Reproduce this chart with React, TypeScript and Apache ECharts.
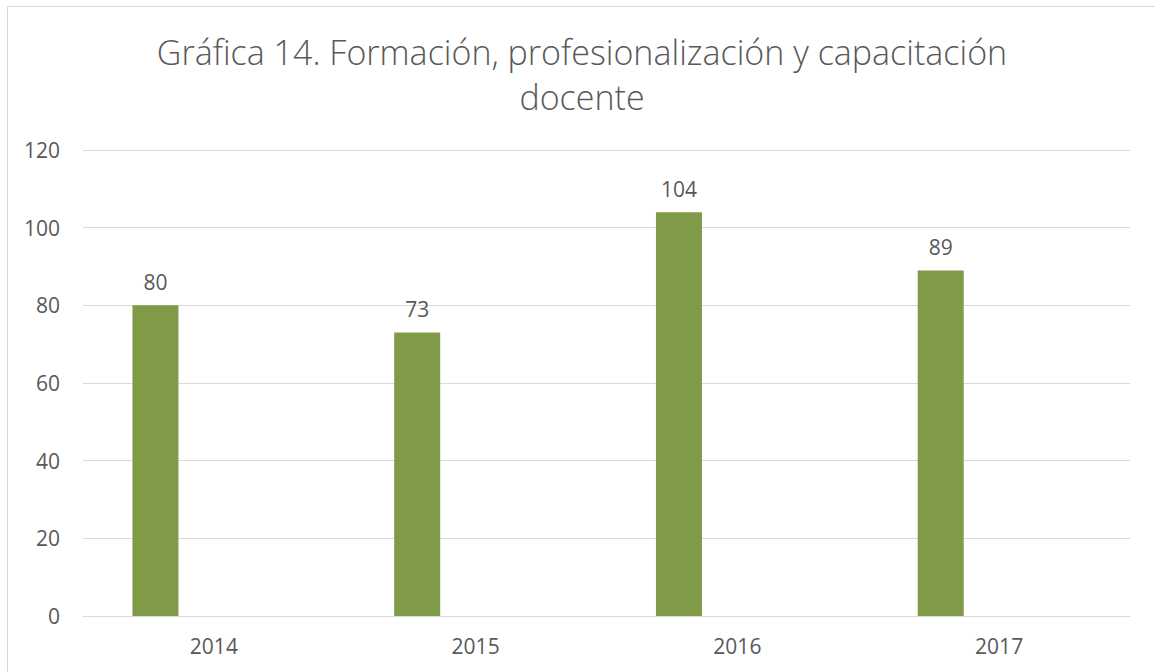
import React, { useEffect, useRef } from "react";
import * as echarts from "echarts";

const titleLines = ["Gráfica 14. Formación, profesionalización y capacitación", "docente"];
const categories = ["2014", "2015", "2016", "2017"];
const values = [80, 73, 104, 89];
const yTicks = { min: 0, max: 120, interval: 20 };

const FONT = "'Open Sans', 'Noto Sans', sans-serif";
const TEXT = "#595959";

export default function App() {
  const ref = useRef<HTMLDivElement>(null);
  useEffect(() => {
    if (!ref.current) return;
    const chart = echarts.init(ref.current, undefined, { renderer: "svg" });
    chart.setOption({
      animation: false,
      backgroundColor: "#ffffff",
      textStyle: { fontFamily: FONT },
      graphic: [
        {
          type: "rect",
          shape: { x: 7.5, y: 6.5, width: 1200, height: 700 },
          style: { fill: "none", stroke: "#d9d9d9", lineWidth: 1 },
          silent: true,
          z: -1,
        },
        ...titleLines.map((t, i) => ({
          type: "text",
          x: 582,
          y: 52 + i * 45,
          silent: true,
          style: {
            text: t,
            fontFamily: FONT,
            fontSize: 34,
            fontWeight: 300,
            fill: TEXT,
            align: "center",
            verticalAlign: "middle",
          },
        })),
      ],
      grid: { left: 83, right: 25, top: 150, bottom: 56, containLabel: false },
      xAxis: {
        type: "category",
        data: categories,
        axisLine: { show: true, lineStyle: { color: "#d9d9d9" } },
        axisTick: { show: false },
        axisLabel: { fontFamily: FONT, fontSize: 21, color: TEXT, margin: 19 },
      },
      yAxis: {
        type: "value",
        min: yTicks.min,
        max: yTicks.max,
        interval: yTicks.interval,
        axisLine: { show: false },
        axisTick: { show: false },
        splitLine: { lineStyle: { color: "#d9d9d9", width: 1 } },
        axisLabel: { fontFamily: FONT, fontSize: 21, color: TEXT, margin: 23 },
      },
      series: [
        {
          type: "bar",
          data: values,
          barWidth: 46,
          barGap: "154%",
          itemStyle: { color: "#7F9B48" },
          label: {
            show: true,
            position: "top",
            distance: 13,
            fontFamily: FONT,
            fontSize: 21,
            color: TEXT,
          },
        },
        {
          type: "bar",
          data: categories.map(() => null),
          barWidth: 46,
          itemStyle: { color: "#7F9B48" },
        },
      ],
    });
    return () => chart.dispose();
  }, []);
  return (
    <div
      ref={ref}
      style={{ position: "fixed", left: 0, top: 0, width: 1155, height: 672 }}
    />
  );
}
